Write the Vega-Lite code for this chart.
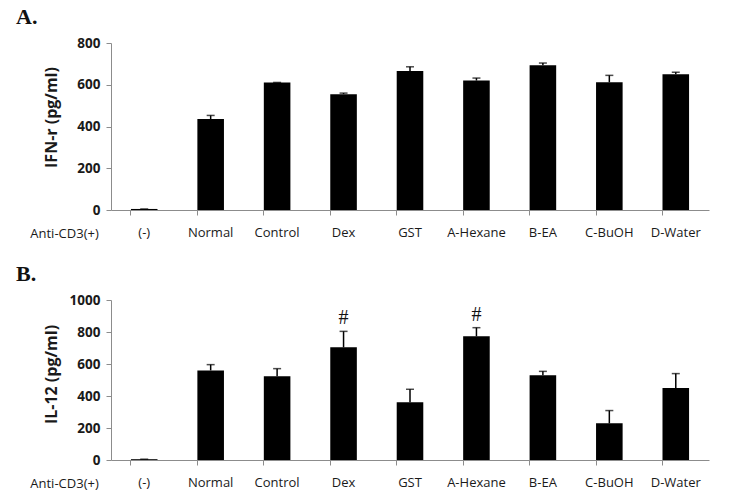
{
  "$schema": "https://vega.github.io/schema/vega-lite/v6.json",
  "background": "white",
  "padding": {"left": 16, "top": 6, "right": 5, "bottom": 5},
  "config": {
    "view": {"stroke": null},
    "font": "Open Sans",
    "axis": {"grid": false, "domainColor": "#8c8c8c", "tickColor": "#8c8c8c", "labelColor": "#1a1a1a", "titleColor": "#1a1a1a", "tickSize": 5},
    "axisX": {"titleX": -47, "titleY": 27, "titleBaseline": "alphabetic", "titleAlign": "center", "titleFontWeight": "normal", "titleFontSize": 13, "labelAngle": 0, "labelFontSize": 13, "labelPadding": 11, "bandPosition": 0},
    "title": {"font": "Liberation Serif", "fontSize": 22, "fontWeight": "bold", "anchor": "start", "frame": "group", "color": "#111"}
  },
  "datasets": {
    "a": [
      {"group": "(-)", "value": 5, "hi": 5},
      {"group": "Normal", "value": 436, "hi": 453},
      {"group": "Control", "value": 611, "hi": 611},
      {"group": "Dex", "value": 555, "hi": 560},
      {"group": "GST", "value": 666, "hi": 686},
      {"group": "A-Hexane", "value": 620, "hi": 632},
      {"group": "B-EA", "value": 693, "hi": 704},
      {"group": "C-BuOH", "value": 612, "hi": 645},
      {"group": "D-Water", "value": 650, "hi": 660}
    ],
    "b": [
      {"group": "(-)", "value": 5, "hi": 5, "sig": ""},
      {"group": "Normal", "value": 560, "hi": 596, "sig": ""},
      {"group": "Control", "value": 523, "hi": 571, "sig": ""},
      {"group": "Dex", "value": 704, "hi": 804, "sig": "#"},
      {"group": "GST", "value": 361, "hi": 442, "sig": ""},
      {"group": "A-Hexane", "value": 773, "hi": 827, "sig": "#"},
      {"group": "B-EA", "value": 529, "hi": 554, "sig": ""},
      {"group": "C-BuOH", "value": 229, "hi": 309, "sig": ""},
      {"group": "D-Water", "value": 450, "hi": 540, "sig": ""}
    ]
  },
  "spacing": 23,
  "vconcat": [
    {
      "title": {"text": "A.", "dx": -95, "offset": 7},
      "width": 598,
      "height": 167,
      "data": {"name": "a"},
      "resolve": {"axis": {"y": "independent"}},
      "encoding": {
        "x": {
          "field": "group", "type": "nominal", "sort": null,
          "scale": {"paddingInner": 0.6, "paddingOuter": 0.3},
          "axis": {"title": "Anti-CD3(+)"}
        }
      },
      "layer": [
        {
          "mark": {"type": "bar", "color": "black"},
          "encoding": {
            "y": {"field": "value", "type": "quantitative", "scale": {"domain": [0, 800]},
              "axis": {"title": "IFN-r (pg/ml)", "values": [0, 200, 400, 600, 800], "format": "d", "labelOverlap": false, "titleFontSize": 16, "titleFontWeight": "bold", "titleX": -52, "titleY": 74, "labelFontSize": 13.5, "labelFontWeight": "bold", "labelPadding": 6}}
          }
        },
        {
          "mark": {"type": "rule", "color": "black", "strokeWidth": 1.5},
          "encoding": {"y": {"field": "value", "type": "quantitative", "axis": null}, "y2": {"field": "hi"}}
        },
        {
          "mark": {"type": "tick", "color": "black", "size": 8, "thickness": 1.5},
          "encoding": {"y": {"field": "hi", "type": "quantitative", "axis": null}}
        }
      ]
    },
    {
      "title": {"text": "B.", "dx": -95, "offset": 7},
      "width": 598,
      "height": 160,
      "data": {"name": "b"},
      "resolve": {"axis": {"y": "independent"}},
      "encoding": {
        "x": {
          "field": "group", "type": "nominal", "sort": null,
          "scale": {"paddingInner": 0.6, "paddingOuter": 0.3},
          "axis": {"title": "Anti-CD3(+)"}
        }
      },
      "layer": [
        {
          "mark": {"type": "bar", "color": "black"},
          "encoding": {
            "y": {"field": "value", "type": "quantitative", "scale": {"domain": [0, 1000]},
              "axis": {"title": "IL-12 (pg/ml)", "values": [0, 200, 400, 600, 800, 1000], "format": "d", "labelOverlap": false, "titleFontSize": 16, "titleFontWeight": "bold", "titleX": -52, "titleY": 74, "labelFontSize": 13.5, "labelFontWeight": "bold", "labelPadding": 6}}
          }
        },
        {
          "mark": {"type": "rule", "color": "black", "strokeWidth": 1.5},
          "encoding": {"y": {"field": "value", "type": "quantitative", "axis": null}, "y2": {"field": "hi"}}
        },
        {
          "mark": {"type": "tick", "color": "black", "size": 8, "thickness": 1.5},
          "encoding": {"y": {"field": "hi", "type": "quantitative", "axis": null}}
        },
        {
          "mark": {"type": "text", "font": "Liberation Serif", "fontSize": 20, "dy": -13, "color": "#111"},
          "encoding": {"y": {"field": "hi", "type": "quantitative", "axis": null}, "text": {"field": "sig"}}
        }
      ]
    }
  ]
}
